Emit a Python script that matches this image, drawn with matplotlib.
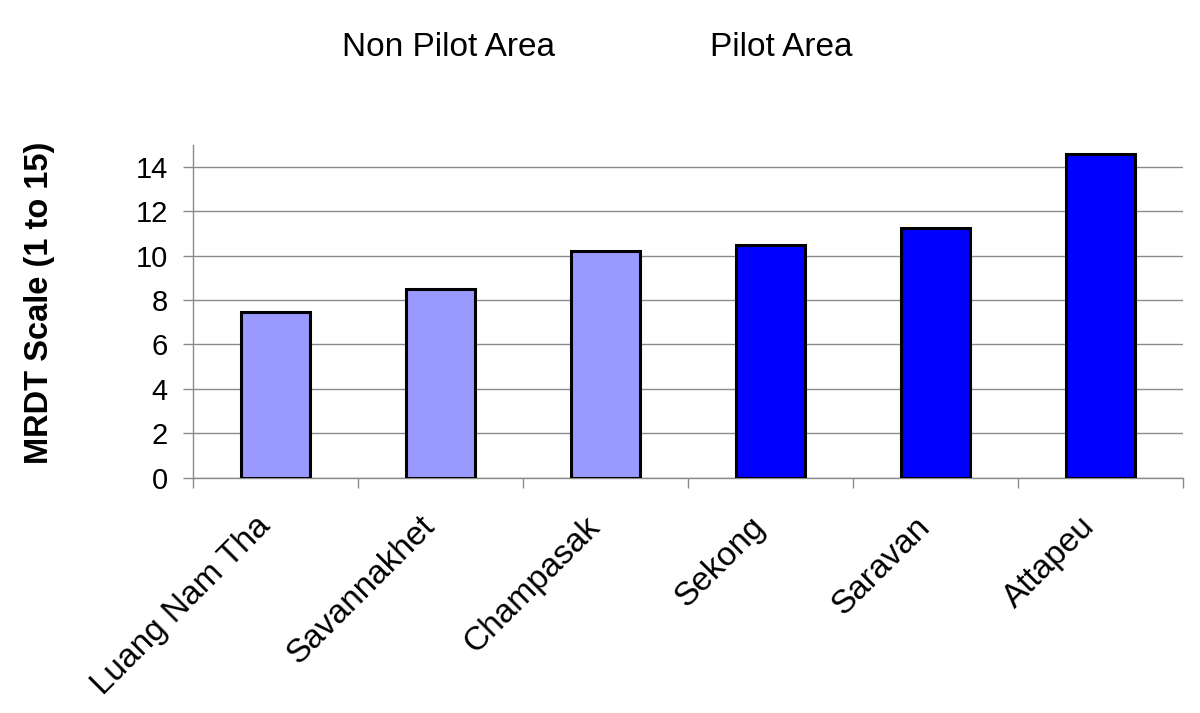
import matplotlib
matplotlib.use("Agg")
import matplotlib.pyplot as plt
import matplotlib.transforms as mtransforms
import numpy as np

plt.rcParams['font.family'] = ['Liberation Sans', 'DejaVu Sans']

categories = ["Luang Nam Tha", "Savannakhet", "Champasak", "Sekong", "Saravan", "Attapeu"]
values = [7.45, 8.48, 10.21, 10.47, 11.26, 14.58]
groups = ["Non Pilot Area", "Non Pilot Area", "Non Pilot Area", "Pilot Area", "Pilot Area", "Pilot Area"]
group_colors = {"Non Pilot Area": "#9999FF", "Pilot Area": "#0000FF"}
yticks = [0, 2, 4, 6, 8, 10, 12, 14]
ylabel = "MRDT Scale (1 to 15)"

fig = plt.figure(figsize=(12, 7.13), dpi=100)
ax = fig.add_axes([0.1608, 0.330, 0.825, 0.4673])

x = np.arange(len(categories))
colors = [group_colors[g] for g in groups]
ax.bar(x, values, width=0.42, color=colors, edgecolor="black", linewidth=2.2, zorder=3)

ax.set_xlim(-0.5, len(categories) - 0.5)
ax.set_ylim(0, 15)
ax.set_yticks(yticks)
ax.set_yticklabels([str(t) for t in yticks], fontsize=21)
ax.grid(axis="y", color="#8a8a8a", linewidth=1.0, zorder=0)
ax.set_axisbelow(True)

# category boundary ticks
ax.set_xticks(np.arange(len(categories) + 1) - 0.5, minor=False)
ax.set_xticklabels([])
ax.tick_params(axis="x", which="major", length=7, color="#8a8a8a", width=1.0)
ax.tick_params(axis="y", length=7, color="#8a8a8a", width=1.0, pad=11)

for sp in ["top", "right"]:
    ax.spines[sp].set_visible(False)
for sp in ["left", "bottom"]:
    ax.spines[sp].set_color("#8a8a8a")
    ax.spines[sp].set_linewidth(1.0)

# rotated category labels
offset = mtransforms.ScaledTranslation(-10 / 100, -44 / 100, fig.dpi_scale_trans)
for xi, lab in zip(x, categories):
    ax.text(xi, 0, lab, rotation=45, rotation_mode="anchor", ha="right", va="center",
            fontsize=24, transform=ax.get_xaxis_transform() + offset)

# y-axis title
fig.text(40 / 1200, 1 - 303 / 713, ylabel, rotation=90, fontsize=23.5, fontweight="bold",
         ha="center", va="center")

# group labels at top
fig.text(449 / 1200, 1 - 47 / 713, "Non Pilot Area", fontsize=24, ha="center", va="center")
fig.text(781 / 1200, 1 - 47 / 713, "Pilot Area", fontsize=24, ha="center", va="center")

fig.savefig("out.png", dpi=100)
